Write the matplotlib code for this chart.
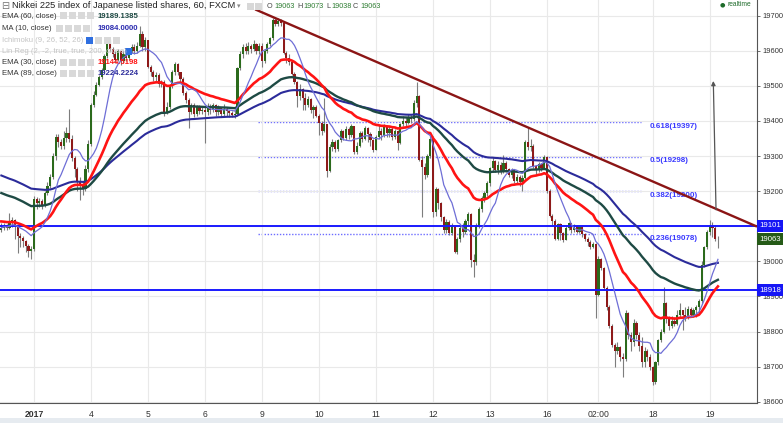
import numpy as np
import pandas as pd
import matplotlib
matplotlib.use("Agg")
import matplotlib.pyplot as plt
import matplotlib.transforms as mtransforms
from matplotlib.patches import Rectangle

plt.rcParams['font.family'] = ['Liberation Sans', 'DejaVu Sans']

# Nikkei 225 CFD, 60 min bars, one row per session
closes = [
    19095, 19102, 19096, 19110, 19118, 19100, 19072, 19066, 19058, 19045, 19030, 19036,  # Dec 30
    19178, 19165, 19172, 19160, 19195, 19215, 19240, 19300, 19355, 19340, 19328, 19352, 19365, 19350, 19295, 19262, 19228, 19215, 19205, 19262, 19335,  # Jan 3
    19445, 19475, 19502, 19525, 19545, 19585, 19620, 19605, 19590, 19575, 19598, 19570, 19592, 19580, 19600, 19612, 19598, 19615, 19648, 19610, 19630,  # Jan 4
    19554, 19540, 19525, 19530, 19505, 19510, 19422, 19440, 19500, 19540, 19562, 19540, 19520, 19480, 19460, 19425, 19445, 19420, 19440, 19428, 19432,  # Jan 5
    19425, 19440, 19430, 19445, 19425, 19438, 19420, 19435, 19428, 19422, 19418, 19420, 19550, 19590, 19612, 19600, 19615, 19605, 19620, 19598, 19615,  # Jan 6
    19570, 19600, 19620, 19635, 19688, 19675, 19685, 19680, 19595, 19580, 19568, 19535, 19510, 19470, 19490, 19465, 19445, 19462, 19430, 19440, 19415,  # Jan 9
    19395, 19372, 19390, 19258, 19325, 19340, 19320, 19345, 19370, 19352, 19378, 19360, 19385, 19312, 19330, 19365, 19350, 19380, 19362, 19345, 19318,  # Jan 10
    19355, 19370, 19360, 19385, 19365, 19378, 19355, 19370, 19336, 19390, 19400, 19395, 19412, 19405, 19450, 19470, 19290, 19270, 19245, 19300, 19350,  # Jan 11
    19140, 19205, 19165, 19125, 19090, 19112, 19082, 19098, 19028, 19065, 19095, 19085, 19115, 19135, 19005, 18998, 19100, 19150, 19180, 19195, 19222,  # Jan 12
    19265, 19285, 19260, 19275, 19255, 19280, 19262, 19245, 19260, 19230, 19240, 19225, 19238, 19340, 19325, 19330, 19272, 19262, 19278, 19265, 19298,  # Jan 13
    19200, 19130, 19115, 19065, 19105, 19080, 19062, 19095, 19108, 19090, 19100, 19085, 19098, 19078, 19065, 19055, 19042, 19050, 18905,  # Jan 16
    19008, 18982, 18925, 18870, 18815, 18762, 18745, 18755, 18728, 18722, 18852, 18790, 18770, 18825, 18790, 18760, 18712, 18745, 18728, 18700,  # Jan 17
    18655, 18712, 18776, 18800, 18880, 18835, 18815, 18830, 18822, 18848, 18860, 18848, 18842, 18865, 18848, 18862, 18870, 18888, 18990, 19040, 19085,  # Jan 18
    19100, 19095, 19063, 19063,  # Jan 19
]
highs = [
    19108, 19110, 19105, 19139, 19125, 19120, 19102, 19080, 19072, 19060, 19050, 19045,
    19185, 19183, 19180, 19178, 19200, 19225, 19248, 19310, 19362, 19362, 19350, 19370, 19383, 19434, 19360, 19300, 19270, 19240, 19230, 19275, 19345,
    19450, 19485, 19510, 19530, 19552, 19592, 19628, 19633, 19610, 19600, 19605, 19600, 19600, 19598, 19608, 19620, 19618, 19625, 19670, 19655, 19640,
    19632, 19560, 19545, 19540, 19536, 19518, 19517, 19455, 19505, 19545, 19568, 19565, 19540, 19525, 19485, 19465, 19452, 19450, 19445, 19445, 19440,
    19440, 19452, 19448, 19450, 19448, 19445, 19440, 19448, 19440, 19432, 19428, 19430, 19555, 19600, 19620, 19622, 19625, 19620, 19630, 19622, 19622,
    19622, 19605, 19625, 19640, 19692, 19697, 19692, 19690, 19682, 19600, 19590, 19570, 19540, 19515, 19505, 19495, 19480, 19470, 19465, 19445, 19445,
    19420, 19400, 19465, 19392, 19335, 19348, 19345, 19350, 19378, 19375, 19385, 19382, 19390, 19385, 19340, 19370, 19372, 19385, 19383, 19368, 19350,
    19360, 19388, 19380, 19390, 19388, 19385, 19382, 19378, 19375, 19395, 19415, 19412, 19420, 19418, 19460, 19512, 19475, 19300, 19280, 19305, 19358,
    19358, 19212, 19210, 19170, 19130, 19120, 19118, 19110, 19100, 19070, 19100, 19110, 19122, 19140, 19138, 19020, 19108, 19155, 19185, 19200, 19228,
    19268, 19298, 19290, 19285, 19282, 19303, 19285, 19265, 19265, 19262, 19248, 19245, 19245, 19345, 19383, 19350, 19335, 19275, 19282, 19280, 19303,
    19300, 19205, 19135, 19120, 19110, 19110, 19085, 19100, 19112, 19110, 19105, 19103, 19102, 19100, 19082, 19070, 19060, 19055, 19052,
    19015, 19010, 18985, 18930, 18875, 18820, 18768, 18770, 18760, 18740, 18860, 18856, 18800, 18835, 18830, 18800, 18785, 18755, 18750, 18735,
    18702, 18715, 18780, 18808, 18927, 18885, 18845, 18845, 18840, 18860, 18880, 18862, 18870, 18872, 18870, 18868, 18875, 18892, 19000, 19045, 19090,
    19118, 19112, 19104, 19073,
]
lows = [
    19084, 19088, 19088, 19092, 19098, 19065, 19024, 19040, 19040, 19026, 19012, 19007,
    19030, 19150, 19155, 19150, 19155, 19190, 19210, 19235, 19290, 19325, 19320, 19320, 19340, 19340, 19285, 19240, 19200, 19175, 19190, 19200, 19255,
    19330, 19440, 19470, 19500, 19520, 19540, 19580, 19598, 19582, 19565, 19570, 19560, 19565, 19572, 19575, 19595, 19590, 19595, 19610, 19600, 19600,
    19550, 19528, 19515, 19515, 19497, 19497, 19415, 19420, 19435, 19495, 19530, 19530, 19512, 19475, 19450, 19380, 19420, 19412, 19415, 19420, 19420,
    19336, 19418, 19420, 19425, 19415, 19418, 19412, 19415, 19415, 19412, 19410, 19408, 19415, 19545, 19580, 19590, 19592, 19595, 19598, 19590, 19590,
    19554, 19565, 19595, 19615, 19630, 19670, 19670, 19672, 19590, 19565, 19560, 19530, 19505, 19440, 19460, 19430, 19430, 19440, 19422, 19408, 19410,
    19360, 19360, 19368, 19240, 19255, 19315, 19312, 19315, 19340, 19345, 19345, 19350, 19355, 19305, 19305, 19325, 19340, 19345, 19340, 19330, 19312,
    19318, 19350, 19345, 19355, 19355, 19355, 19345, 19350, 19317, 19335, 19385, 19385, 19390, 19395, 19400, 19440, 19285, 19127, 19235, 19240, 19295,
    19127, 19130, 19150, 19115, 19080, 19082, 19075, 19075, 19024, 19020, 19055, 19070, 19078, 19100, 18985, 18955, 18990, 19095, 19140, 19170, 19185,
    19215, 19255, 19255, 19250, 19250, 19252, 19255, 19240, 19238, 19222, 19222, 19215, 19200, 19230, 19318, 19315, 19265, 19250, 19255, 19258, 19262,
    19195, 19125, 19100, 19060, 19062, 19060, 19055, 19060, 19090, 19082, 19085, 19080, 19080, 19070, 19058, 19045, 19035, 19038, 18839,
    18900, 18975, 18918, 18860, 18810, 18755, 18699, 18735, 18715, 18670, 18715, 18780, 18745, 18760, 18780, 18745, 18700, 18700, 18715, 18690,
    18648, 18650, 18705, 18770, 18795, 18825, 18805, 18810, 18815, 18818, 18840, 18805, 18830, 18835, 18840, 18840, 18840, 18850, 18880, 18985, 19035,
    19075, 19070, 19058, 19038,
]
first_open = 19088

# bars per session and the date labels shown at each session start
session_bars = [12, 21, 21, 21, 21, 21, 21, 21, 21, 21, 19, 20, 21, 4]
day_labels = ['2017', '4', '5', '6', '9', '10', '11', '12', '13', '16', '02:00', '18', '19']

# indicator values just before the first visible bar (read at left edge)
ema_seeds = {30: 19115, 60: 19198, 89: 19248}

# drawings
levels = [19101, 18918]
fib_ratios = [0.618, 0.5, 0.382, 0.236]
fib_levels = [19397, 19298, 19200, 19078]
trend_x = [93.5, 278.4]
trend_y = [19718, 19099]
arrow_x = [263.3, 262.3]
arrow_y = [19147, 19514]
last_price = 19063

GREEN = '#2b6a1c'
RED = '#8e1a1a'
BLUE_LINE = '#1a1aff'

c = np.array(closes, float)
h = np.array(highs, float)
l = np.array(lows, float)
o = np.r_[first_open, c[:-1]]
h = np.maximum(h, np.maximum(o, c))
l = np.minimum(l, np.minimum(o, c))
x = np.arange(len(c))


def ema(values, span, seed):
    a = 2.0 / (span + 1)
    e = seed
    out = []
    for v in values:
        e = e + a * (v - e)
        out.append(e)
    return np.array(out)


ema30 = ema(c, 30, ema_seeds[30])
ema60 = ema(c, 60, ema_seeds[60])
ema89 = ema(c, 89, ema_seeds[89])
ma10 = pd.Series(c).rolling(10, min_periods=1).mean().values

W, H = 783, 423
fig = plt.figure(figsize=(W / 100, H / 100), dpi=100)
ax = fig.add_axes([0, 20 / H, 757 / W, 403 / H])
ax.set_xlim(-0.5, 278.4)
ax.set_ylim(18596.3, 19744.7)

# grid + axes
tick_pos = np.cumsum([0] + session_bars[:-1])[1:]
ax.set_xticks(tick_pos)
ax.set_xticklabels(day_labels)
ax.get_xticklabels()[0].set_fontweight('bold')
ax.set_yticks(np.arange(18600, 19701, 100))
ax.yaxis.tick_right()
ax.tick_params(axis='y', labelsize=5.4, colors='#555', labelcolor='#333', length=2.5, width=0.6, pad=1.2)
ax.tick_params(axis='x', labelsize=6.2, labelcolor='#333', length=0, pad=5)
ax.grid(color='#e9e9e9', lw=0.8, zorder=0)
for s in ['top', 'left']:
    ax.spines[s].set_visible(False)
for s in ['right', 'bottom']:
    ax.spines[s].set_color('#555')
    ax.spines[s].set_linewidth(0.8)

# fibonacci retracement
ax.hlines(fib_levels, 94.6, 235.5, colors='#6d6dff', linestyles=(0, (1, 1.2)), lw=1, zorder=1)
for r, lv in zip(fib_ratios, fib_levels):
    ax.annotate(f'{r}({lv})', (239.0, lv), xytext=(0, -3), textcoords='offset points',
                va='center', ha='left', fontsize=5.8, color='#3a3aff', fontweight='bold')

# horizontal levels
for lv in levels:
    ax.axhline(lv, color=BLUE_LINE, lw=1.4, zorder=4)

# candles
up = c >= o
ax.vlines(x, l, h, color='#7d7d7d', lw=0.8, zorder=2)
body = np.maximum(np.abs(c - o), 1.5)
ax.bar(x, body, bottom=np.minimum(o, c), width=0.8,
       color=np.where(up, GREEN, RED), linewidth=0, zorder=3)

# moving averages
ax.plot(x, ema89, color='#2b2b9a', lw=1.5, zorder=5)
ax.plot(x, ema60, color='#1e4a44', lw=1.7, zorder=5)
ax.plot(x, ema30, color='#ff1414', lw=1.9, zorder=6)
ax.plot(x, ma10, color='#6e6ed6', lw=0.9, zorder=6)

# trend line and arrow
ax.plot(trend_x, trend_y, color='#8b1515', lw=1.7, zorder=7, solid_capstyle='butt')
ax.annotate('', xy=(arrow_x[1], arrow_y[1]), xytext=(arrow_x[0], arrow_y[0]),
            arrowprops=dict(arrowstyle='-|>', color='#555', lw=0.9, mutation_scale=6,
                            shrinkA=0, shrinkB=0), zorder=8)

# price tags on the right scale
trans = mtransforms.blended_transform_factory(ax.transAxes, ax.transData)
tag_h = 12 * 2.8497 / 2
for val, col in [(levels[0], '#1616f5'), (last_price, '#255a17'), (levels[1], '#1616f5')]:
    ax.add_patch(Rectangle((1.0, val - tag_h), 26 / 757, 2 * tag_h, transform=trans,
                           facecolor=col, edgecolor='none', clip_on=False, zorder=10))
    ax.text(1.0 + 13 / 757, val, str(val), transform=trans, ha='center', va='center',
            fontsize=5.6, color='white', zorder=11, clip_on=False)


def fx(px):
    return px / W


def fy(py):
    return 1 - py / H


# header
fig.text(fx(1), fy(6), '⊟', fontsize=7, color='#777', va='center', family='DejaVu Sans')
fig.text(fx(12), fy(6), 'Nikkei 225 index of Japanese listed shares, 60, FXCM', fontsize=6.7,
         color='#222', va='center')
fig.text(fx(237), fy(6), '▾', fontsize=5, color='#888', va='center', family='DejaVu Sans')
for bx in [247, 255]:
    fig.patches.append(Rectangle((fx(bx), fy(10)), 7 / W, 7 / H, transform=fig.transFigure,
                                 facecolor='#d8d8d8', edgecolor='none'))
ohlc_parts = [('O', 267, '#444'), ('19063', 274, '#2e7d32'), ('H', 297, '#444'), ('19073', 303, '#2e7d32'),
              ('L', 326, '#444'), ('19038', 331, '#2e7d32'), ('C', 353, '#444'), ('19063', 360, '#2e7d32')]
for txt, px_, col in ohlc_parts:
    fig.text(fx(px_), fy(6), txt, fontsize=5.2, color=col, va='center')

# indicator legend
legend_rows = [
    ('EMA (60, close)', '#333', 16, 60, '19189.1385', '#1e4a44'),
    ('MA (10, close)', '#333', 29, 56, '19084.0000', '#2c2cb0'),
    ('Ichimoku (9, 26, 52, 26)', '#c4c4c4', 40.5, 86, '', ''),
    ('Lin Reg (2, -2, true, true, 200, close)', '#c4c4c4', 51.5, 125, '', ''),
    ('EMA (30, close)', '#333', 62.5, 60, '19144.5198', '#ff1414'),
    ('EMA (89, close)', '#333', 73.5, 60, '19224.2224', '#2b2b9a'),
]
for label, col, py, icon_x, val, vcol in legend_rows:
    fig.text(fx(2), fy(py), label, fontsize=5.6, color=col, va='center')
    n_icons = 1 if icon_x == 125 else 4
    for k in range(n_icons):
        fc = '#2f6fe0' if (k == 0 and icon_x >= 86) else '#d9d9d9'
        fig.patches.append(Rectangle((fx(icon_x + 9 * k), fy(py + 3.5)), 7 / W, 7 / H,
                                     transform=fig.transFigure, facecolor=fc, edgecolor='none'))
    if val:
        fig.text(fx(98), fy(py), val, fontsize=5.6, color=vcol, va='center', fontweight='bold')

# realtime marker
fig.text(fx(720), fy(5), '●', fontsize=4.5, color='#1e6b2a', va='center', family='DejaVu Sans')
fig.text(fx(727), fy(5), 'realtime', fontsize=4.8, color='#1e6b2a', va='center')

# bottom strip
fig.patches.append(Rectangle((0, 0), 1, 5 / H, transform=fig.transFigure,
                             facecolor='#e6ebf0', edgecolor='none'))

fig.savefig('out.png', dpi=100)
